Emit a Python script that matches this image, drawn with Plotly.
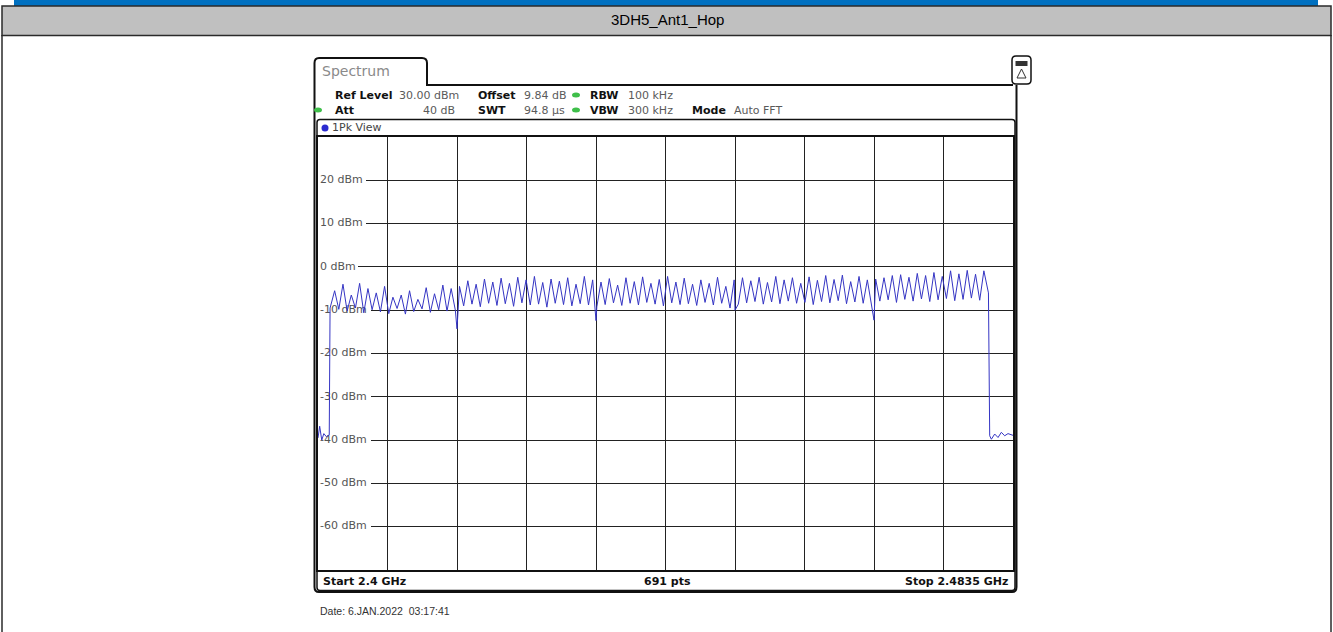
import plotly.graph_objects as go

# ---------------- data ----------------
TITLE = "3DH5_Ant1_Hop"
START_MHZ = 2400.0
STOP_MHZ = 2483.5
REF_TOP = 30
REF_BOTTOM = -70
Y_LABEL_LEVELS = [20, 10, 0, -10, -20, -30, -40, -50, -60]
Y_LABEL_TEXT = ["20 dBm", "10 dBm", "0 dBm", "-10 dBm", "-20 dBm", "-30 dBm", "-40 dBm", "-50 dBm", "-60 dBm"]
Y_LABEL_WIDTH_PX = [48, 48, 40, 53, 53, 53, 53, 53, 53]

# hopping channels (MHz) and their peak levels (dBm)
channel_mhz = list(range(2402, 2481))
peak_dbm = [
    -5.5, -4.0, -6.5, -3.8, -5.0, -6.0, -4.5, -7.0, -6.5, -5.5, -7.5, -4.8, -6.2, -4.2, -5.0,
    -4.5, -3.2, -4.0, -2.8, -3.5, -2.6, -3.8, -2.4, -3.0, -2.2, -3.6, -2.8, -3.3, -2.5, -4.0, -2.2, -3.0,
    -3.5, -2.7, -4.2, -2.5, -3.4, -2.3, -3.8, -2.9, -2.2, -3.5, -2.6, -4.0, -3.0, -3.8, -2.4, -4.5, -3.0,
    -2.5, -3.2, -2.4, -3.6, -2.2, -3.0, -2.5, -3.8, -2.3, -3.1, -2.0, -2.9, -1.9, -3.4, -2.2, -3.0,
    -2.8, -2.5, -2.0, -1.8, -2.4, -1.5, -2.0, -1.3, -2.2, -0.9, -1.6, -0.8, -1.7, -0.9,
]
# levels between neighbouring channels (dBm)
valley_dbm = [
    -9.8, -10.2, -9.5, -10.6, -9.9, -10.4, -10.8, -9.6, -10.9, -10.3, -9.7, -10.5, -9.9, -10.2, -10.0,
    -9.0, -8.6, -9.2, -8.4, -8.9, -8.5, -9.1, -8.3, -8.8, -8.6, -9.3, -8.4, -8.7, -9.0, -8.5, -8.8, -9.2,
    -8.7, -8.3, -8.9, -8.4, -8.8, -8.2, -8.6, -9.0, -8.3, -8.7, -8.5, -8.9, -8.2, -8.8, -8.4, -9.5, -8.6,
    -8.3, -8.0, -8.6, -8.1, -8.5, -7.9, -8.4, -8.2, -8.7, -8.0, -8.3, -7.8, -8.5, -8.1, -8.4, -8.6,
    -7.9, -7.6, -8.2, -7.5, -7.9, -7.4, -8.0, -7.6, -7.3, -7.8, -7.5, -7.2, -7.7,
]
# narrow dips at FFT segment borders
dip_mhz = [2416.7, 2433.4, 2450.1, 2466.8]
dip_dbm = [-14.3, -12.4, -10.0, -12.3]
# noise floor before and after the band
lead_mhz = [2400.0, 2400.2, 2400.45, 2400.7, 2401.0, 2401.35, 2401.45]
lead_dbm = [-39.5, -36.8, -40.0, -38.5, -39.2, -38.8, -9.5]
tail_mhz = [2480.55, 2480.7, 2480.9, 2481.3, 2481.7, 2482.1, 2482.5, 2482.9, 2483.5]
tail_dbm = [-6.0, -39.0, -39.8, -38.6, -39.4, -38.2, -39.0, -38.5, -38.9]

HDR_ROW1 = [("Ref Level", True, 333, "left"), ("30.00 dBm", False, 397, "left"),
            ("Offset", True, 476, "left"), ("9.84 dB", False, 522, "left"),
            ("RBW", True, 588, "left"), ("100 kHz", False, 626, "left")]
HDR_ROW2 = [("Att", True, 333, "left"), ("40 dB", False, 457, "right"),
            ("SWT", True, 476, "left"), ("94.8 µs", False, 522, "left"),
            ("VBW", True, 588, "left"), ("300 kHz", False, 626, "left"),
            ("Mode", True, 690, "left"), ("Auto FFT", False, 732, "left")]
DATE_TEXT = "Date: 6.JAN.2022  03:17:41"

# ---------------- geometry ----------------
W, H = 1333, 632
L, R, T, B = 318, 1013, 137, 570
MHZ_PER_PX = (STOP_MHZ - START_MHZ) / (R - L)
DB_PER_PX = (REF_TOP - REF_BOTTOM) / (B - T)


def px(x):
    return (x - L) / (R - L)


def py(y):
    return (B - y) / (B - T)


def rrect_path(x0, y0, x1, y1, r):
    a, b, c, d = px(x0), py(y0), px(x1), py(y1)
    rx, ry = r / (R - L), r / (B - T)
    return (f"M{a+rx},{b} L{c-rx},{b} Q{c},{b} {c},{b-ry} L{c},{d+ry} Q{c},{d} {c-rx},{d} "
            f"L{a+rx},{d} Q{a},{d} {a},{d+ry} L{a},{b-ry} Q{a},{b} {a+rx},{b} Z")


# ---------------- build trace ----------------
pts = list(zip(lead_mhz, lead_dbm))
pts += list(zip(channel_mhz, peak_dbm))
pts += list(zip([c + 0.5 for c in channel_mhz[:-1]], valley_dbm))
pts += list(zip(dip_mhz, dip_dbm))
pts += list(zip(tail_mhz, tail_dbm))
pts.sort(key=lambda p: p[0])
trace_x = [p[0] for p in pts]
trace_y = [p[1] for p in pts]

fig = go.Figure()

# y-level labels (drawn below the trace)
label_x = START_MHZ + 2 * MHZ_PER_PX
fig.add_trace(go.Scatter(
    x=[label_x] * len(Y_LABEL_LEVELS), y=Y_LABEL_LEVELS, text=Y_LABEL_TEXT,
    mode="text", textposition="middle right", hoverinfo="skip", showlegend=False,
    textfont=dict(family="DejaVu Sans", size=11, color="#555555")))

fig.add_trace(go.Scatter(
    x=trace_x, y=trace_y, mode="lines", showlegend=False,
    line=dict(color="#3535c4", width=1)))

shapes = []
# white boxes behind the level labels (above the grid)
for lv, wpx in zip(Y_LABEL_LEVELS, Y_LABEL_WIDTH_PX):
    shapes.append(dict(type="rect", xref="x", yref="y", layer="between",
                       x0=START_MHZ, x1=START_MHZ + wpx * MHZ_PER_PX,
                       y0=lv - 6 * DB_PER_PX, y1=lv + 6 * DB_PER_PX,
                       fillcolor="white", line=dict(width=0)))

# page decoration
shapes.append(dict(type="rect", xref="paper", yref="paper", layer="above",
                   x0=px(14), x1=px(1318), y0=py(0), y1=py(6),
                   fillcolor="#0070c0", line=dict(width=0)))
shapes.append(dict(type="rect", xref="paper", yref="paper", layer="above",
                   x0=px(2), x1=px(1331), y0=py(6), y1=py(35.5),
                   fillcolor="#c0c0c0", line=dict(color="#2a2a2a", width=1.5)))
shapes.append(dict(type="line", xref="paper", yref="paper", x0=px(2), x1=px(2),
                   y0=py(35), y1=py(H + 5), line=dict(color="#2a2a2a", width=1.5)))
shapes.append(dict(type="line", xref="paper", yref="paper", x0=px(1331), x1=px(1331),
                   y0=py(35), y1=py(H + 5), line=dict(color="#2a2a2a", width=1.5)))

# instrument frame with "Spectrum" tab
frame = (f"M{px(1013)},{py(85)} L{px(427)},{py(85)} L{px(427)},{py(63)} "
         f"Q{px(427)},{py(58)} {px(422)},{py(58)} L{px(319)},{py(58)} "
         f"Q{px(314.5)},{py(58)} {px(314.5)},{py(63)} L{px(314.5)},{py(587)} "
         f"Q{px(314.5)},{py(592)} {px(319)},{py(592)} L{px(1012)},{py(592)} "
         f"Q{px(1016.5)},{py(592)} {px(1016.5)},{py(587)} L{px(1016.5)},{py(85)}")
shapes.append(dict(type="path", xref="paper", yref="paper", path=frame,
                   line=dict(color="#111111", width=2)))
# view box
shapes.append(dict(type="path", xref="paper", yref="paper",
                   path=rrect_path(317, 119.5, 1015, 590.5, 3),
                   line=dict(color="#111111", width=1.5)))
# icon box top right
shapes.append(dict(type="path", xref="paper", yref="paper",
                   path=rrect_path(1012, 56, 1031, 84, 4),
                   line=dict(color="#111111", width=1.5), fillcolor="white"))
shapes.append(dict(type="rect", xref="paper", yref="paper",
                   x0=px(1015.5), x1=px(1027.5), y0=py(61), y1=py(66),
                   fillcolor="#333333", line=dict(width=0)))
shapes.append(dict(type="path", xref="paper", yref="paper",
                   path=f"M{px(1021.5)},{py(69)} L{px(1017)},{py(78)} L{px(1026)},{py(78)} Z",
                   line=dict(color="#333333", width=1)))

# status dots
for (cx, cy, col) in [(576, 95, "#3fbf4a"), (318, 110, "#3fbf4a"), (576, 110, "#3fbf4a"),
                      (325, 128, "#2b2bd0")]:
    rx_ = 4 if col != "#2b2bd0" else 3.5
    ry_ = 2.5 if col != "#2b2bd0" else 3.5
    shapes.append(dict(type="circle", xref="paper", yref="paper",
                       x0=px(cx - rx_), x1=px(cx + rx_), y0=py(cy - ry_), y1=py(cy + ry_),
                       fillcolor=col, line=dict(width=0)))

annotations = []


def text(x, y, s, size=11, color="#111111", anchor="left", family="DejaVu Sans"):
    annotations.append(dict(x=px(x), y=py(y), xref="paper", yref="paper", text=s,
                            showarrow=False, xanchor=anchor, yanchor="middle",
                            font=dict(family=family, size=size, color=color)))


text(667, 20, TITLE, size=15, color="#000000", anchor="center", family="Liberation Sans, Arial")
text(320, 71, "Spectrum", size=14, color="#8a8a8a")
for s, bold, x, anc in HDR_ROW1:
    text(x, 95, f"<b>{s}</b>" if bold else s, color="#111111" if bold else "#5a5a5a", anchor=anc)
for s, bold, x, anc in HDR_ROW2:
    text(x, 110, f"<b>{s}</b>" if bold else s, color="#111111" if bold else "#5a5a5a", anchor=anc)
text(330, 128, "1Pk View", color="#444444")
text(321, 581, f"<b>Start {START_MHZ/1000:g} GHz</b>")
text(667, 581, "<b>691 pts</b>", anchor="center")
text(1010, 581, f"<b>Stop {STOP_MHZ/1000:g} GHz</b>", anchor="right")
text(318, 611, DATE_TEXT, size=10.5, color="#333333", family="Liberation Sans, Arial")

fig.update_layout(
    width=W, height=H,
    margin=dict(l=L, r=W - R, t=T, b=H - B, autoexpand=False),
    paper_bgcolor="white", plot_bgcolor="white",
    shapes=shapes, annotations=annotations,
    xaxis=dict(range=[START_MHZ, STOP_MHZ], tick0=START_MHZ, dtick=(STOP_MHZ - START_MHZ) / 10,
               showgrid=True, gridcolor="#222222", gridwidth=1, showticklabels=False,
               ticks="", zeroline=False, showline=True, linecolor="#111111", linewidth=1.5,
               mirror=True, fixedrange=True),
    yaxis=dict(range=[REF_BOTTOM, REF_TOP], tick0=0, dtick=10,
               showgrid=True, gridcolor="#222222", gridwidth=1, showticklabels=False,
               ticks="", zeroline=False, showline=True, linecolor="#111111", linewidth=1.5,
               mirror=True, fixedrange=True),
)

fig.write_html("out.html", config={"displayModeBar": False},
               post_script="document.body.style.margin='0';document.body.style.overflow='hidden';")
